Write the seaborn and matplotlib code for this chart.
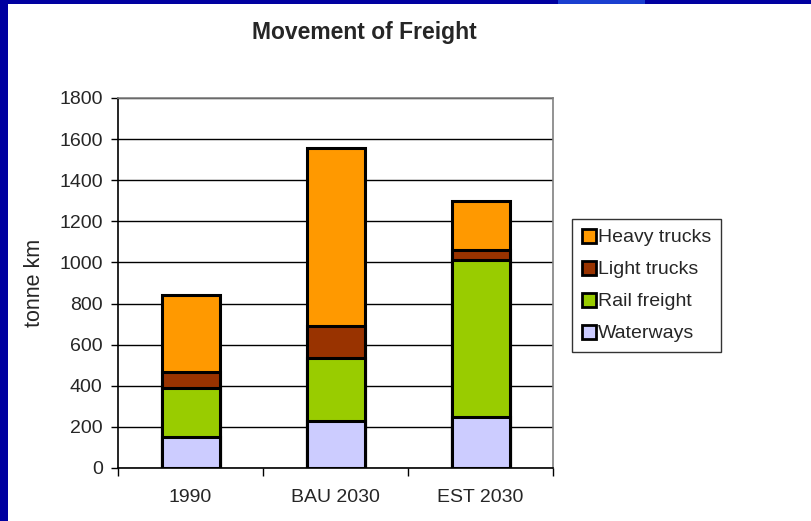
import matplotlib
matplotlib.use("Agg")
import matplotlib.pyplot as plt
import matplotlib.patches as mpatches
from matplotlib.lines import Line2D
import numpy as np
import pandas as pd
import seaborn as sns

categories = ["1990", "BAU 2030", "EST 2030"]
waterways = [150, 230, 250]
rail_freight = [240, 305, 760]
light_trucks = [75, 155, 50]
heavy_trucks = [375, 865, 240]

series_names = ["Heavy trucks", "Light trucks", "Rail freight", "Waterways"]
colors = {"Heavy trucks": "#FF9900", "Light trucks": "#993300",
          "Rail freight": "#99CC00", "Waterways": "#CCCCFF"}

sns.set_theme(style="white")
plt.rcParams['font.family'] = ['Liberation Sans', 'DejaVu Sans']

FS = 14

fig = plt.figure(figsize=(8.11, 5.21), dpi=100)
fig.patch.set_facecolor("white")

# slide frame
fig.patches.append(mpatches.Rectangle((0, 0), 8 / 811, 1, transform=fig.transFigure,
                                      facecolor="#0000A0", edgecolor="none", zorder=0))
fig.patches.append(mpatches.Rectangle((0, 1 - 4 / 521), 1, 4 / 521, transform=fig.transFigure,
                                      facecolor="#0000A0", edgecolor="none", zorder=0))
fig.patches.append(mpatches.Rectangle((558 / 811, 1 - 4 / 521), 87 / 811, 4 / 521,
                                      transform=fig.transFigure,
                                      facecolor="#1A3FD0", edgecolor="none", zorder=0))

ax = fig.add_axes([118 / 811, 1 - 468 / 521, (553 - 118) / 811, (468 - 98) / 521])

df = pd.DataFrame({"cat": categories, "Waterways": waterways, "Rail freight": rail_freight,
                   "Light trucks": light_trucks, "Heavy trucks": heavy_trucks})
stack_order = ["Waterways", "Rail freight", "Light trucks", "Heavy trucks"]
cum = df[stack_order].cumsum(axis=1)

for name in reversed(stack_order):
    sns.barplot(x=df["cat"], y=cum[name], color=colors[name], width=0.4,
                edgecolor="black", linewidth=2.2, saturation=1, ax=ax, zorder=3,
                order=categories)

ax.set_ylim(0, 1800)
ax.set_xlim(-0.5, 2.5)
ax.set_yticks(np.arange(0, 1801, 200))
ax.yaxis.grid(True, color="black", linewidth=1.0, zorder=0)
ax.set_axisbelow(True)
ax.set_xlabel("")
ax.set_ylabel("tonne km", fontsize=15.5, labelpad=10)

ax.tick_params(axis="y", which="major", direction="out", length=5, width=1,
               color="black", labelsize=FS, pad=6, left=True)
ax.tick_params(axis="x", which="major", length=0, labelsize=FS, pad=15)
ax.set_xticks([-0.5, 0.5, 1.5, 2.5], minor=True)
ax.tick_params(axis="x", which="minor", direction="out", length=6, width=1,
               color="black", bottom=True)

for s in ["left", "bottom"]:
    ax.spines[s].set_color("black")
    ax.spines[s].set_linewidth(1.2)
for s in ["right", "top"]:
    ax.spines[s].set_visible(True)
    ax.spines[s].set_color("#808080")
    ax.spines[s].set_linewidth(1.2)

fig.text(364 / 811, 1 - 33 / 521, "Movement of Freight", ha="center", va="center",
         fontsize=16.5, fontweight="bold")

handles = [Line2D([0], [0], marker="s", linestyle="none", markersize=9.4,
                  markerfacecolor=colors[n], markeredgecolor="black",
                  markeredgewidth=2.0) for n in series_names]
leg = ax.legend(handles, series_names, loc="upper left",
                bbox_to_anchor=(572 / 811, 1 - 219 / 521), bbox_transform=fig.transFigure,
                borderaxespad=0, frameon=True, fancybox=False, fontsize=FS,
                labelspacing=0.74, handlelength=0.7, handletextpad=0.15,
                borderpad=0.5)
leg.get_frame().set_edgecolor("black")
leg.get_frame().set_linewidth(1.0)

fig.savefig("out.png", dpi=100, facecolor="white")
